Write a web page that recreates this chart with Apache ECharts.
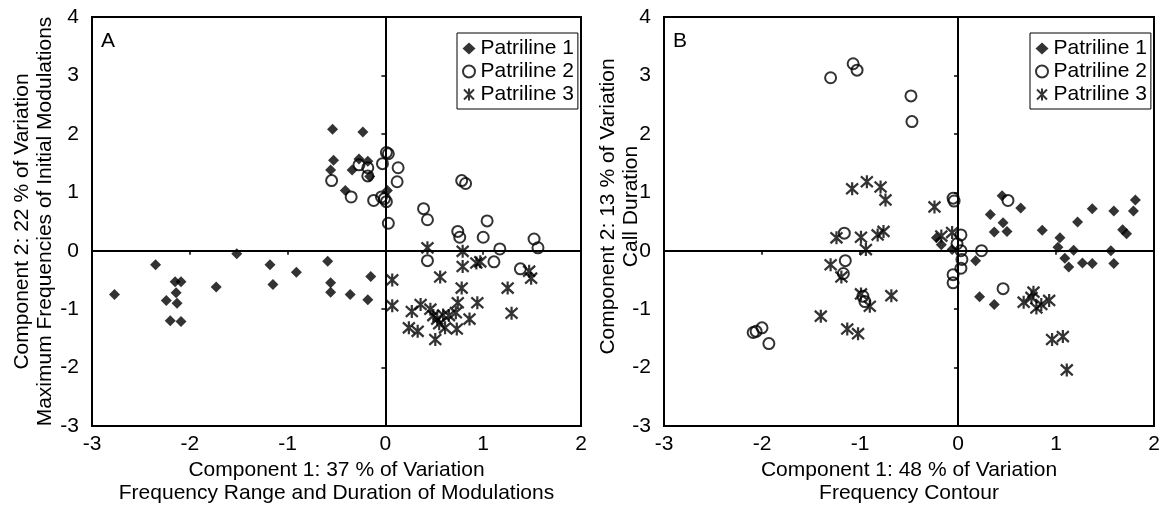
<!DOCTYPE html>
<html>
<head>
<meta charset="utf-8">
<script src="https://cdn.jsdelivr.net/npm/echarts@6/dist/echarts.min.js"></script>
<style>
  html, body { margin: 0; padding: 0; background: #fff; }
  #chart { width: 1161px; height: 506px; }
</style>
</head>
<body>
<div id="chart"></div>
<script>
// Panel A: component scores (x = component 1, y = component 2)
const A_PATRILINE_1 = [
    [-0.54, 2.08], [-0.23, 2.03], [-0.53, 1.55], [-0.27, 1.57], [-0.18, 1.53], [-0.56, 1.38],
    [-0.34, 1.38], [-0.16, 1.27], [-0.41, 1.03], [0.02, 1.03],
    [-2.77, -0.75], [-2.35, -0.24], [-2.15, -0.53], [-2.09, -0.53], [-2.14, -0.72], [-2.24, -0.85],
    [-2.13, -0.90], [-2.20, -1.20], [-2.09, -1.21], [-1.73, -0.62], [-1.52, -0.05], [-1.18, -0.24],
    [-1.15, -0.58], [-0.91, -0.37], [-0.59, -0.18], [-0.56, -0.55], [-0.56, -0.71], [-0.36, -0.75],
    [-0.18, -0.84], [-0.15, -0.44]
];
const A_PATRILINE_2 = [
    [-0.55, 1.20], [-0.27, 1.47], [-0.18, 1.42], [-0.18, 1.28], [-0.03, 1.49], [0.01, 1.68],
    [0.03, 1.66], [0.13, 1.42], [0.12, 1.18], [-0.35, 0.92], [-0.12, 0.86], [-0.04, 0.92],
    [-0.01, 0.89], [0.01, 0.84], [0.03, 0.47], [0.39, 0.72], [0.43, 0.53], [0.78, 1.20],
    [0.82, 1.15], [1.04, 0.51], [0.74, 0.33], [0.76, 0.23], [1.00, 0.23], [1.17, 0.03],
    [1.52, 0.20], [1.56, 0.05], [0.43, -0.17], [1.11, -0.19], [1.38, -0.31]
];
const A_PATRILINE_3 = [
    [0.43, 0.05], [0.79, -0.01], [0.79, -0.27], [0.93, -0.21], [0.97, -0.19], [1.47, -0.35],
    [1.49, -0.47], [0.07, -0.50], [0.56, -0.45], [0.78, -0.64], [1.25, -0.64], [0.07, -0.94],
    [0.27, -1.04], [0.36, -0.92], [0.46, -1.00], [0.49, -1.11], [0.53, -1.17], [0.59, -1.10],
    [0.65, -1.11], [0.72, -1.06], [0.74, -0.89], [0.94, -0.89], [0.86, -1.17], [1.29, -1.07],
    [0.24, -1.32], [0.33, -1.38], [0.61, -1.32], [0.73, -1.34], [0.51, -1.52], [0.55, -1.25]
];

// Panel B
const B_PATRILINE_1 = [
    [-0.22, 0.22], [-0.17, 0.10], [-0.06, 0.02], [0.18, -0.17], [0.45, 0.94], [0.64, 0.73],
    [0.33, 0.62], [0.46, 0.48], [0.37, 0.32], [0.50, 0.33], [0.86, 0.35], [1.04, 0.22],
    [1.02, 0.06], [1.18, 0.01], [1.09, -0.13], [1.13, -0.28], [1.27, -0.21], [1.37, -0.22],
    [1.22, 0.49], [1.37, 0.72], [1.59, 0.68], [1.81, 0.87], [1.79, 0.68], [1.68, 0.36],
    [1.72, 0.29], [1.56, 0.00], [1.59, -0.22], [0.22, -0.79], [0.37, -0.92]
];
const B_PATRILINE_2 = [
    [-1.30, 2.96], [-1.07, 3.20], [-1.03, 3.09], [-0.48, 2.65], [-0.47, 2.21], [-0.05, 0.90],
    [-0.04, 0.85], [0.51, 0.86], [0.03, 0.27], [-0.01, 0.12], [0.24, 0.00], [0.03, 0.00],
    [0.04, -0.15], [0.03, -0.30], [-0.05, -0.41], [-0.05, -0.55], [0.46, -0.65], [-1.16, 0.30],
    [-1.15, -0.17], [-1.17, -0.39], [-0.97, -0.78], [-0.95, -0.87], [-2.06, -1.38], [-2.00, -1.32],
    [-2.09, -1.40], [-1.93, -1.59]
];
const B_PATRILINE_3 = [
    [-1.08, 1.06], [-0.93, 1.18], [-0.79, 1.09], [-0.74, 0.87], [-0.24, 0.75], [-0.17, 0.25],
    [-0.06, 0.31], [0.77, -0.71], [0.67, -0.88], [0.80, -0.98], [0.85, -0.92], [0.93, -0.85],
    [0.96, -1.52], [1.07, -1.47], [1.11, -2.04], [-1.24, 0.22], [-0.99, 0.23], [-0.82, 0.27],
    [-0.76, 0.33], [-0.94, 0.02], [-1.30, -0.24], [-1.19, -0.45], [-0.99, -0.74], [-0.90, -0.95],
    [-0.68, -0.77], [-1.40, -1.12], [-1.13, -1.34], [-1.02, -1.42], [0.75, -0.80]
];

const SERIES_NAMES = ['Patriline 1', 'Patriline 2', 'Patriline 3'];
const PANEL_LABELS = ['A', 'B'];
const X_TITLES = [
    'Component 1: 37 % of Variation\nFrequency Range and Duration of Modulations',
    'Component 1: 48 % of Variation\nFrequency Contour'
];
const Y_TITLES = [
    'Component 2: 22 % of Variation\nMaximum Frequencies of Initial Modulations',
    'Component 2: 13 % of Variation\nCall Duration'
];

const FONT = "'Liberation Sans', Arial, sans-serif";
const STAR = 'path://M5,0 L5,12 M0,1 L10,11 M0,11 L10,1';

const grids = [
    { left: 92, top: 17, width: 489, height: 409 },
    { left: 664, top: 17, width: 490, height: 409 }
];
// y title distance from the frame differs between the panels; B's title sits a bit higher
const Y_NAME_GAP = [35, 21];
const Y_NAME_PAD = [[0, 0, 0, 0], [0, 0, 0, 30]];

const xAxes = [];
const yAxes = [];
grids.forEach((g, i) => {
    // axis carrying labels + title on the frame
    xAxes.push({
        gridIndex: i, type: 'value', min: -3, max: 2, interval: 1, position: 'bottom',
        axisLine: { show: false, onZero: false }, axisTick: { show: false }, splitLine: { show: false },
        axisLabel: { color: '#000', fontSize: 21, fontFamily: FONT, margin: 8 },
        name: X_TITLES[i], nameLocation: 'middle', nameGap: 33, nameMoveOverlap: false,
        nameTextStyle: { color: '#000', fontSize: 21, fontFamily: FONT, lineHeight: 23 }
    });
    // zero line with small ticks
    xAxes.push({
        gridIndex: i, type: 'value', min: -3, max: 2, interval: 1, position: 'bottom',
        axisLine: { show: true, onZero: true, lineStyle: { color: '#000', width: 2 } },
        axisTick: { show: true, length: 4, lineStyle: { color: '#000', width: 1.5 } },
        axisLabel: { show: false }, splitLine: { show: false }
    });
    yAxes.push({
        gridIndex: i, type: 'value', min: -3, max: 4, interval: 1, position: 'left',
        axisLine: { show: false, onZero: false }, axisTick: { show: false }, splitLine: { show: false },
        axisLabel: { color: '#000', fontSize: 21, fontFamily: FONT, margin: 13 },
        name: Y_TITLES[i], nameLocation: 'middle', nameGap: Y_NAME_GAP[i], nameRotate: 90,
        nameMoveOverlap: false,
        nameTextStyle: { color: '#000', fontSize: 21, fontFamily: FONT, lineHeight: 23, padding: Y_NAME_PAD[i] }
    });
    yAxes.push({
        gridIndex: i, type: 'value', min: -3, max: 4, interval: 1, position: 'left',
        axisLine: { show: true, onZero: true, lineStyle: { color: '#000', width: 2 } },
        axisTick: { show: true, length: 4, lineStyle: { color: '#000', width: 1.5 } },
        axisLabel: { show: false }, splitLine: { show: false }
    });
});

const panelData = [
    [A_PATRILINE_1, A_PATRILINE_2, A_PATRILINE_3],
    [B_PATRILINE_1, B_PATRILINE_2, B_PATRILINE_3]
];

const series = [];
panelData.forEach((sets, p) => {
    sets.forEach((data, k) => {
        const s = {
            name: SERIES_NAMES[k], type: 'scatter',
            xAxisIndex: p * 2, yAxisIndex: p * 2,
            data: data, silent: true
        };
        if (k === 0) {
            s.symbol = 'diamond';
            s.symbolSize = 11;
            s.itemStyle = { color: '#000' };
        } else if (k === 1) {
            s.symbol = 'circle';
            s.symbolSize = 11;
            s.itemStyle = { color: 'rgba(0,0,0,0)', borderColor: '#000', borderWidth: 2 };
        } else {
            s.symbol = STAR;
            s.symbolSize = [12, 13];
            s.itemStyle = { color: 'rgba(0,0,0,0)', borderColor: '#000', borderWidth: 2.3 };
        }
        series.push(s);
    });
});

const legendBase = {
    orient: 'vertical', top: 33,
    backgroundColor: '#fff', borderColor: '#000', borderWidth: 1,
    padding: [5, 4, 4, 5], itemGap: 2, itemWidth: 13, itemHeight: 12,
    textStyle: { color: '#000', fontSize: 21, fontFamily: FONT },
    data: [
        { name: 'Patriline 1', icon: 'diamond' },
        { name: 'Patriline 2', icon: 'circle' },
        { name: 'Patriline 3', icon: STAR }
    ],
    selectedMode: false
};

const chart = echarts.init(document.getElementById('chart'));
chart.setOption({
    animation: false,
    backgroundColor: '#fff',
    grid: grids.map(g => Object.assign({
        show: true, borderColor: '#000', borderWidth: 2, backgroundColor: 'transparent',
        containLabel: false, outerBoundsMode: 'none'
    }, g)),
    xAxis: xAxes,
    yAxis: yAxes,
    legend: [
        Object.assign({}, legendBase, { left: 457 }),
        Object.assign({}, legendBase, { left: 1030 })
    ],
    graphic: PANEL_LABELS.map((t, i) => ({
        type: 'text', left: grids[i].left + 9, top: 31,
        style: { text: t, fontSize: 21, fontFamily: FONT, fill: '#000' }
    })),
    series: series
});
</script>
</body>
</html>
